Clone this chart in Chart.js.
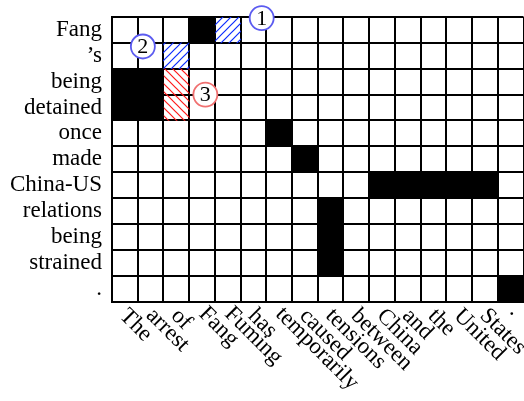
<!DOCTYPE html>
<html lang="en">

<head>
    <meta charset="UTF-8">
    <script src="https://cdn.jsdelivr.net/npm/chart.js"></script>
    <title>Alignment</title>
    <style>
        body { margin: 0; background: #fff; }
    </style>
</head>

<body>
    <canvas id="myChartCanvas" width="524" height="401"></canvas>
</body>

</html>

<script>
    // source words (columns) and target words (rows)
    const srcWords = ['The', 'arrest', 'of', 'Fang', 'Fuming', 'has', 'temporarily', 'caused', 'tensions',
        'between', 'China', 'and', 'the', 'United', 'States', '.'];
    const tgtWords = ['Fang', '\u2019s', 'being', 'detained', 'once', 'made', 'China-US', 'relations',
        'being', 'strained', '.'];

    // alignment links: [row, column]
    const blackLinks = [[0, 3], [2, 0], [2, 1], [3, 0], [3, 1], [4, 6], [5, 7], [6, 10], [6, 11], [6, 12],
        [6, 13], [6, 14], [7, 8], [8, 8], [9, 8], [10, 15]];
    const blueLinks = [[0, 4], [1, 2]];
    const redLinks = [[2, 2], [3, 2]];

    // numbered markers
    const markerLabels = ['1', '2', '3'];
    const markerX = [5.82, 1.2, 3.63];
    const markerY = [0.04, 1.14, 3.0];

    const FONT = 'Liberation Serif, Times New Roman, serif';

    function hatch(color, rising) {
        const s = 8;
        const c = document.createElement('canvas');
        c.width = s;
        c.height = s;
        const g = c.getContext('2d');
        g.strokeStyle = color;
        g.lineWidth = 1.2;
        g.beginPath();
        if (rising) {
            g.moveTo(-1, s + 1); g.lineTo(s + 1, -1);
            g.moveTo(-1, 1); g.lineTo(1, -1);
            g.moveTo(s - 1, s + 1); g.lineTo(s + 1, s - 1);
        } else {
            g.moveTo(-1, -1); g.lineTo(s + 1, s + 1);
            g.moveTo(s - 1, -1); g.lineTo(s + 1, 1);
            g.moveTo(-1, s - 1); g.lineTo(1, s + 1);
        }
        g.stroke();
        return g.createPattern(c, 'repeat');
    }

    function cells(links) {
        return links.map(function (l) {
            return { x: [l[1], l[1] + 1], y: l[0] + 0.5 };
        });
    }

    // x labels rotated 45 deg, anchored at their vertical middle
    const wordLabels = {
        id: 'wordLabels',
        afterDraw(chart) {
            const ctx = chart.ctx;
            const xs = chart.scales.x;
            const bottom = chart.chartArea.bottom;
            ctx.save();
            ctx.font = '23px ' + FONT;
            ctx.fillStyle = '#000';
            ctx.textAlign = 'left';
            ctx.textBaseline = 'alphabetic';
            srcWords.forEach(function (w, i) {
                const cx = xs.getPixelForValue(i + 0.5);
                const m = ctx.measureText(w);
                const off = (m.actualBoundingBoxAscent - m.actualBoundingBoxDescent) / 2;
                ctx.save();
                ctx.translate(cx - 0.5, bottom + 9.7);
                ctx.rotate(Math.PI / 4);
                ctx.fillText(w, 0, off);
                ctx.restore();
            });

            // numbers inside the circles
            const meta = chart.getDatasetMeta(3);
            ctx.font = '22px ' + FONT;
            ctx.textAlign = 'center';
            ctx.textBaseline = 'middle';
            meta.data.forEach(function (pt, i) {
                ctx.fillText(markerLabels[i], pt.x, pt.y + 1);
            });
            ctx.restore();
        }
    };

    const gridOpts = { color: '#000', lineWidth: 2, drawTicks: false, offset: false };

    const config = {
        type: 'bar',
        data: {
            datasets: [
                { label: 'black', data: cells(blackLinks), backgroundColor: '#000' },
                { label: 'blue', data: cells(blueLinks), backgroundColor: hatch('#0a2cff', true) },
                { label: 'red', data: cells(redLinks), backgroundColor: hatch('#ff1a1a', false) },
                {
                    type: 'scatter',
                    label: 'markers',
                    data: markerX.map(function (x, i) { return { x: x, y: markerY[i] }; }),
                    pointRadius: 12,
                    pointBorderWidth: 1.8,
                    pointBackgroundColor: '#fff',
                    pointBorderColor: ['#5b5bf0', '#5b5bf0', '#f07070'],
                    clip: false
                }
            ]
        },
        options: {
            indexAxis: 'y',
            responsive: false,
            animation: false,
            layout: { autoPadding: false, padding: { top: 17, bottom: 99.5, left: 0, right: 0.5 } },
            datasets: {
                bar: { grouped: false, barPercentage: 1, categoryPercentage: 1, borderWidth: 0 }
            },
            plugins: { legend: { display: false }, tooltip: { enabled: false } },
            scales: {
                x: {
                    type: 'linear', min: 0, max: 16, position: 'bottom', offset: false,
                    ticks: { display: false, stepSize: 1 },
                    grid: gridOpts,
                    border: { color: '#000', width: 2 }
                },
                y: {
                    type: 'linear', min: 0, max: 11, reverse: true, position: 'left', weight: 0, offset: false,
                    ticks: { display: false, stepSize: 1 },
                    grid: gridOpts,
                    border: { color: '#000', width: 2 }
                },
                yl: {
                    type: 'linear', min: 0, max: 11, reverse: true, position: 'left', weight: 1, offset: false,
                    grid: { display: false },
                    border: { display: false },
                    afterBuildTicks: function (scale) {
                        scale.ticks = tgtWords.map(function (w, i) { return { value: i + 0.5 }; });
                    },
                    afterFit: function (scale) {
                        scale.width = 112;
                        scale.paddingTop = 0;
                        scale.paddingBottom = 0;
                    },
                    ticks: {
                        autoSkip: false,
                        padding: 2,
                        color: '#000',
                        font: { family: FONT, size: 23 },
                        callback: function (v, i) { return tgtWords[i]; }
                    }
                }
            }
        },
        plugins: [wordLabels]
    };

    const myChart = new Chart(document.getElementById('myChartCanvas'), config);
</script>
